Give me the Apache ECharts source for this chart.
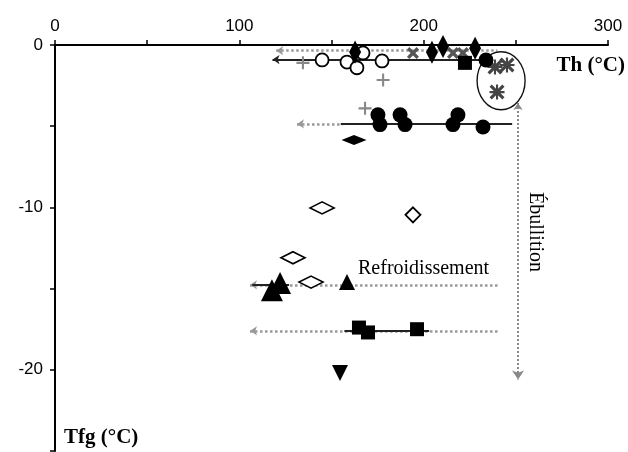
<!DOCTYPE html>
<html><head><meta charset="utf-8">
<script src="https://cdn.jsdelivr.net/npm/echarts@6/dist/echarts.min.js"></script>
<style>html,body{margin:0;padding:0;background:#fff}#c{width:628px;height:452px}</style>
</head><body><div id="c"></div>
<script>
// ---- data (Th °C, Tfg °C) ----
const xTicks = [0, 100, 200, 300];
const yTicks = [0, -10, -20];
const filledCircles = [[175.2,-4.3],[176.3,-4.9],[187.2,-4.3],[189.9,-4.9],[218.6,-4.3],[215.9,-4.9],[232.2,-5.05],[233.8,-0.92]];
const openCircles = [[144.9,-0.92],[158.4,-1.05],[167.1,-0.49],[177.4,-0.98],[163.8,-1.4]];
const filledDiamondsTall = [[162.8,-0.43],[204.5,-0.45],[210.5,-0.1],[227.9,-0.2]];
const filledDiamondsWide = [[162.2,-5.85]];
const openDiamondsWide = [[144.9,-10.03],[129.1,-13.1],[138.9,-14.6]];
const openDiamondsSmall = [[194.2,-10.46]];
const crosses = [[194.2,-0.5],[215.9,-0.5],[221.3,-0.5]];
const plusSigns = [[134.5,-1.1],[178.0,-2.15],[168.2,-3.9]];
const asterisks = [[238.7,-1.35],[245.2,-1.23],[239.8,-2.9]];
const squares = [[222.4,-1.1],[164.9,-17.4],[169.8,-17.7],[196.4,-17.5]];
const trianglesBig = [[122.1,-14.65],[117.7,-15.1]];
const trianglesSmall = [[158.4,-14.6]];
const downTriangles = [[154.6,-20.2]];
const boilingCluster = [[242.0,-2.2]];
// range lines [start, end]
const grayRanges = [
  [[120,-0.35],[240,-0.35]],
  [[131.3,-4.86],[156,-4.86]],
  [[105.8,-14.77],[240.4,-14.77]],
  [[105.8,-17.6],[240.4,-17.6]]
];
const darkRangesArrow = [[[118,-0.9],[233,-0.9]]];
const darkRanges = [
  [[155,-4.86],[248,-4.86]],
  [[107,-14.77],[127,-14.77]],
  [[157,-17.6],[203,-17.6]]
];
const boilingLine = [[251.2,-3.57],[251.2,-20.6]];

const X = 'path://M0,2L2,0L5,3L8,0L10,2L7,5L10,8L8,10L5,7L2,10L0,8L3,5Z';
const PLUS = 'path://M4.2,0H5.8V4.2H10V5.8H5.8V10H4.2V5.8H0V4.2H4.2Z';
const AST = 'path://M0,1.5L1.5,0L5,3.5L8.5,0L10,1.5L6.5,5L10,8.5L8.5,10L5,6.5L1.5,10L0,8.5L3.5,5Z M4.3,0H5.7V10H4.3Z M0,4.3H10V5.7H0Z';

function sc(data, symbol, size, style, extra) {
  return Object.assign({type:'scatter', data:data, symbol:symbol, symbolSize:size,
    itemStyle:Object.assign({opacity:1}, style), z:3, clip:false, silent:true}, extra||{});
}
const black = {color:'#000'};
const open = {color:'#fff', borderColor:'#000', borderWidth:1.8};

const chart = echarts.init(document.getElementById('c'));
chart.setOption({
  animation:false,
  grid:{left:55, right:20, top:45, bottom:1},
  xAxis:{type:'value', position:'top', min:0, max:300, interval:50,
    axisLine:{onZero:false, lineStyle:{color:'#000', width:2}},
    axisTick:{show:true, length:5, lineStyle:{color:'#000', width:1.5}},
    splitLine:{show:false},
    axisLabel:{margin:10, color:'#000', fontFamily:'Liberation Sans', fontSize:17,
      formatter:v => xTicks.includes(v) ? String(v) : ''}},
  yAxis:{type:'value', min:-25, max:0, interval:5,
    axisLine:{onZero:false, lineStyle:{color:'#000', width:2}},
    axisTick:{show:true, length:5, lineStyle:{color:'#000', width:1.5}},
    splitLine:{show:false},
    axisLabel:{margin:12, color:'#000', fontFamily:'Liberation Sans', fontSize:17,
      formatter:v => yTicks.includes(v) ? String(v) : ''}},
  graphic:[
    {type:'text', right:3, top:55, style:{text:'Th (°C)', font:'bold 21px "Liberation Serif"', fill:'#000'}},
    {type:'text', left:64, top:427, style:{text:'Tfg (°C)', font:'bold 21px "Liberation Serif"', fill:'#000'}},
    {type:'text', left:358, top:259, style:{text:'Refroidissement', font:'20px "Liberation Serif"', fill:'#000'}},
    {type:'text', x:545, y:192, rotation:-Math.PI/2, style:{text:'Ébullition', font:'20px "Liberation Serif"', fill:'#000'}}
  ],
  series:[
    {type:'lines', coordinateSystem:'cartesian2d', z:1, silent:true,
      symbol:['arrow','none'], symbolSize:[7,9],
      lineStyle:{color:'#999', width:2.5, type:'dotted', opacity:1},
      data:grayRanges.map(c => ({coords:c}))},
    {type:'lines', coordinateSystem:'cartesian2d', z:2, silent:true,
      symbol:['arrow','none'], symbolSize:[7,9],
      lineStyle:{color:'#222', width:2, opacity:1},
      data:darkRangesArrow.map(c => ({coords:c}))},
    {type:'lines', coordinateSystem:'cartesian2d', z:2, silent:true,
      symbol:'none',
      lineStyle:{color:'#222', width:2, opacity:1},
      data:darkRanges.map(c => ({coords:c}))},
    {type:'lines', coordinateSystem:'cartesian2d', z:1, silent:true,
      symbol:['arrow','arrow'], symbolSize:[7,9],
      lineStyle:{color:'#888', width:2, type:'dotted', opacity:1},
      data:[{coords:boilingLine}]},
    sc(boilingCluster, 'circle', [48,58], {color:'rgba(0,0,0,0)', borderColor:'#111', borderWidth:1.5}, {z:2}),
    sc(crosses, X, 12, {color:'#555'}),
    sc(plusSigns, PLUS, 13, {color:'#888'}),
    sc(asterisks, AST, 15, {color:'#444'}),
    sc(openCircles, 'circle', 13, open),
    sc(filledDiamondsTall, 'diamond', [12,23], black, {z:4}),
    sc(filledDiamondsWide, 'diamond', [25,10], black),
    sc(openDiamondsWide, 'diamond', [24,12], open),
    sc(openDiamondsSmall, 'diamond', [15,15], open),
    sc(filledCircles, 'circle', 15, black),
    sc(squares, 'rect', 14, black),
    sc(trianglesBig, 'triangle', 22, black),
    sc(trianglesSmall, 'triangle', 16, black),
    sc(downTriangles, 'triangle', 16, black, {symbolRotate:180})
  ]
});
</script></body></html>
